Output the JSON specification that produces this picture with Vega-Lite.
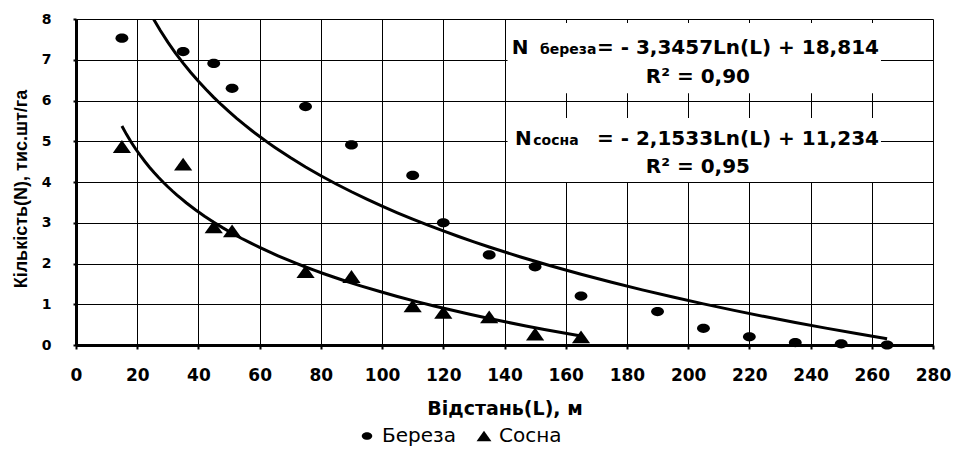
{
  "$schema": "https://vega.github.io/schema/vega-lite/v6.json",
  "width": 857,
  "height": 326,
  "autosize": {"type": "none"},
  "padding": {"left": 76, "top": 19, "right": 22, "bottom": 105},
  "background": "white",
  "config": {"view": {"stroke": null}, "font": "DejaVu Sans"},
  "datasets": {
    "obs": [
      {"species": "Береза", "dist": 15, "N": 7.53},
      {"species": "Береза", "dist": 35, "N": 7.2},
      {"species": "Береза", "dist": 45, "N": 6.91},
      {"species": "Береза", "dist": 51, "N": 6.3},
      {"species": "Береза", "dist": 75, "N": 5.85},
      {"species": "Береза", "dist": 90, "N": 4.91},
      {"species": "Береза", "dist": 110, "N": 4.16},
      {"species": "Береза", "dist": 120, "N": 3.0},
      {"species": "Береза", "dist": 135, "N": 2.21},
      {"species": "Береза", "dist": 150, "N": 1.92},
      {"species": "Береза", "dist": 165, "N": 1.2},
      {"species": "Береза", "dist": 190, "N": 0.82},
      {"species": "Береза", "dist": 205, "N": 0.41},
      {"species": "Береза", "dist": 220, "N": 0.2},
      {"species": "Береза", "dist": 235, "N": 0.06},
      {"species": "Береза", "dist": 250, "N": 0.03},
      {"species": "Береза", "dist": 265, "N": 0.0},
      {"species": "Сосна", "dist": 15, "N": 4.87},
      {"species": "Сосна", "dist": 35, "N": 4.44},
      {"species": "Сосна", "dist": 45, "N": 2.9},
      {"species": "Сосна", "dist": 51, "N": 2.8},
      {"species": "Сосна", "dist": 75, "N": 1.8},
      {"species": "Сосна", "dist": 90, "N": 1.68},
      {"species": "Сосна", "dist": 110, "N": 0.96},
      {"species": "Сосна", "dist": 120, "N": 0.8},
      {"species": "Сосна", "dist": 135, "N": 0.69},
      {"species": "Сосна", "dist": 150, "N": 0.27},
      {"species": "Сосна", "dist": 165, "N": 0.2}
    ],
    "boxes": [
      {"dist": 141, "dist2": 263, "N": 6.18, "N2": 7.9},
      {"dist": 141, "dist2": 263, "N": 4.0, "N2": 5.57}
    ],
    "notes": [
      {"kind": "main", "t": "N", "dist": 142.4, "N": 7.14},
      {"kind": "sub", "t": "береза", "dist": 151.6, "N": 7.14},
      {"kind": "main", "t": "= - 3,3457Ln(L) + 18,814", "dist": 170.2, "N": 7.14},
      {"kind": "r2", "t": "R² = 0,90", "dist": 203.2, "N": 6.43},
      {"kind": "main", "t": "N", "dist": 143.4, "N": 4.91},
      {"kind": "sub", "t": "сосна", "dist": 149.4, "N": 4.91},
      {"kind": "main", "t": "= - 2,1533Ln(L) + 11,234", "dist": 170.2, "N": 4.91},
      {"kind": "r2", "t": "R² = 0,95", "dist": 203.2, "N": 4.22}
    ]
  },
  "encoding": {
    "x": {
      "field": "dist", "type": "quantitative",
      "scale": {"domain": [0, 280], "nice": false, "zero": false},
      "axis": {
        "values": [0, 20, 40, 60, 80, 100, 120, 140, 160, 180, 200, 220, 240, 260, 280],
        "grid": true, "gridColor": "#000", "gridWidth": 1, "gridOpacity": 1,
        "domainColor": "#000", "domainWidth": 3,
        "tickColor": "#000", "tickWidth": 2, "tickSize": 4,
        "labelFont": "DejaVu Sans", "labelFontWeight": "bold", "labelFontSize": 17, "labelColor": "#000",
        "labelPadding": 18, "labelFlush": false, "labelOverlap": false,
        "title": "Відстань(L), м", "titleFont": "DejaVu Sans", "titleFontSize": 19, "titleFontWeight": "bold", "titleColor": "#000",
        "titleX": 428.5, "titleY": 63, "titleAlign": "center", "titleBaseline": "middle"
      }
    },
    "y": {
      "field": "N", "type": "quantitative",
      "scale": {"domain": [0, 8], "nice": false, "zero": false},
      "axis": {
        "values": [0, 1, 2, 3, 4, 5, 6, 7, 8],
        "grid": true, "gridColor": "#000", "gridWidth": 1, "gridOpacity": 1,
        "domainColor": "#000", "domainWidth": 3,
        "tickColor": "#000", "tickWidth": 2, "tickSize": 3,
        "labelFont": "DejaVu Sans", "labelFontWeight": "bold", "labelFontSize": 14, "labelColor": "#000",
        "labelPadding": 22, "labelFlush": false, "labelOverlap": false, "labelAlign": "right",
        "title": "Кількість(N), тис.шт/га", "titleFont": "Liberation Sans", "titleFontSize": 18, "titleFontWeight": "bold", "titleColor": "#000",
        "titleX": -55, "titleY": 169.5, "titleAngle": -90, "titleAlign": "center", "titleBaseline": "middle"
      }
    }
  },
  "layer": [
    {
      "data": {"name": "boxes"},
      "mark": {"type": "rect", "fill": "white", "strokeWidth": 0},
      "encoding": {
        "x2": {"field": "dist2"},
        "y2": {"field": "N2"}
      }
    },
    {
      "data": {"name": "obs"},
      "transform": [{"regression": "N", "on": "dist", "method": "log", "groupby": ["species"]}],
      "mark": {"type": "line", "color": "black", "strokeWidth": 3, "clip": true},
      "encoding": {
        "detail": {"field": "species", "type": "nominal"}
      }
    },
    {
      "data": {"name": "obs"},
      "mark": {"type": "point", "filled": true, "opacity": 1, "color": "black", "strokeWidth": 0},
      "encoding": {
        "shape": {
          "field": "species", "type": "nominal",
          "scale": {"domain": ["Береза", "Сосна"], "range": ["M-1,0A1,0.72,0,1,1,1,0A1,0.72,0,1,1,-1,0Z", "M0,-1L1.42,1L-1.42,1Z"]},
          "legend": {
            "title": null, "orient": "none", "direction": "horizontal",
            "legendX": 281, "legendY": 407,
            "labelFont": "DejaVu Sans", "labelFontSize": 20, "labelColor": "#000",
            "symbolSize": 110, "symbolFillColor": "#000", "symbolStrokeWidth": 0, "symbolOpacity": 1,
            "columnPadding": 18, "labelOffset": 5
          }
        },
        "size": {"value": 165}
      }
    },
    {
      "data": {"name": "notes"},
      "transform": [{"filter": "datum.kind === 'main'"}],
      "mark": {"type": "text", "font": "DejaVu Sans", "fontWeight": "bold", "fontSize": 20, "align": "left", "baseline": "alphabetic", "color": "#000"},
      "encoding": {"text": {"field": "t"}}
    },
    {
      "data": {"name": "notes"},
      "transform": [{"filter": "datum.kind === 'sub'"}],
      "mark": {"type": "text", "font": "DejaVu Sans", "fontWeight": "bold", "fontSize": 14, "align": "left", "baseline": "alphabetic", "color": "#000"},
      "encoding": {"text": {"field": "t"}}
    },
    {
      "data": {"name": "notes"},
      "transform": [{"filter": "datum.kind === 'r2'"}],
      "mark": {"type": "text", "font": "DejaVu Sans", "fontWeight": "bold", "fontSize": 20, "align": "center", "baseline": "alphabetic", "color": "#000"},
      "encoding": {"text": {"field": "t"}}
    }
  ]
}
